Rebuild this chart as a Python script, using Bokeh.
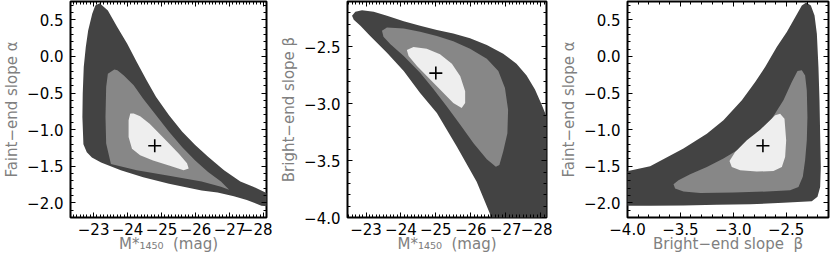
from bokeh.plotting import figure
from bokeh.models import Range1d, SingleIntervalTicker, LinearAxis, CustomJSTickFormatter
from bokeh.layouts import row
from bokeh.embed import file_html
from bokeh.resources import INLINE

# ---------------- data ----------------
# Panel 1: M*_1450 vs faint-end slope alpha
p1_dark_x = [-23.18, -23.42, -23.70, -23.99, -24.27, -24.56, -24.84, -25.22, -25.61, -25.99, -26.37,
             -26.84, -27.32, -27.70, -28.06, -28.25, -28.25, -27.94, -27.51, -27.13, -26.65, -26.18,
             -25.22, -24.46, -23.80, -23.22, -22.95, -22.80, -22.70, -22.67, -22.68, -22.71, -22.77,
             -22.84, -22.96, -23.05]
p1_dark_y = [0.727, 0.627, 0.40, 0.173, -0.077, -0.327, -0.555, -0.805, -1.03, -1.21, -1.37,
             -1.555, -1.71, -1.78, -1.86, -1.88, -2.05, -2.04, -1.96, -1.91, -1.86, -1.83,
             -1.74, -1.65, -1.555, -1.45, -1.38, -1.31, -1.20, -0.827, -0.509, -0.145, 0.127,
             0.355, 0.582, 0.695]
p1_mid_x = [-23.61, -23.70, -23.89, -24.18, -24.46, -24.84, -25.22, -25.61, -25.99, -26.37, -26.75,
            -26.99, -26.75, -26.18, -25.22, -24.27, -23.51, -23.37, -23.35, -23.37, -23.42]
p1_mid_y = [-0.18, -0.19, -0.259, -0.395, -0.577, -0.805, -1.03, -1.24, -1.42, -1.58, -1.71,
            -1.82, -1.78, -1.71, -1.63, -1.555, -1.47, -1.19, -0.827, -0.418, -0.236]
p1_light_x = [-24.08, -24.03, -24.03, -24.13, -24.37, -24.75, -25.22, -25.65, -25.80, -25.75,
              -25.51, -25.22, -24.94, -24.65, -24.37, -24.18]
p1_light_y = [-0.78, -0.873, -1.10, -1.26, -1.35, -1.42, -1.49, -1.555, -1.53, -1.46,
              -1.33, -1.19, -1.055, -0.918, -0.818, -0.78]

# Panel 2: M*_1450 vs bright-end slope beta
p2_dark_x = [-22.60, -22.695, -22.886, -23.22, -23.60, -24.08, -24.55, -25.03, -25.50, -25.98,
             -26.46, -26.93, -27.31, -27.60, -27.84, -28.03, -28.15, -28.40, -28.40, -26.62,
             -26.55, -26.17, -25.60, -25.03, -24.55, -24.08, -23.60, -23.12, -22.84, -22.65]
p2_dark_y = [-2.226, -2.19, -2.176, -2.19, -2.226, -2.273, -2.314, -2.35, -2.382, -2.423,
             -2.482, -2.559, -2.647, -2.75, -2.875, -3.007, -3.096, -3.18, -4.2, -4.2,
             -3.966, -3.686, -3.376, -3.081, -2.904, -2.712, -2.55, -2.403, -2.314, -2.26]
p2_mid_x = [-23.457, -23.60, -24.08, -24.55, -25.03, -25.50, -25.98, -26.46, -26.79, -26.98,
            -27.07, -27.05, -26.93, -26.82, -26.72, -26.46, -26.08, -25.70, -25.31, -24.93,
            -24.55, -24.08, -23.70, -23.50]
p2_mid_y = [-2.358, -2.329, -2.338, -2.367, -2.403, -2.45, -2.515, -2.603, -2.712, -2.86,
            -3.052, -3.258, -3.42, -3.538, -3.553, -3.488, -3.347, -3.184, -3.022, -2.869,
            -2.727, -2.58, -2.476, -2.41]
p2_light_x = [-24.17, -24.36, -24.74, -25.12, -25.46, -25.70, -25.84, -25.84, -25.74, -25.50,
              -25.17, -24.79, -24.46, -24.22]
p2_light_y = [-2.527, -2.50, -2.515, -2.565, -2.647, -2.757, -2.889, -2.993, -3.037, -2.993,
              -2.889, -2.771, -2.668, -2.58]

# Panel 3: bright-end slope beta vs faint-end slope alpha
p3_dark_x = [-4.10, -3.786, -3.471, -3.25, -3.093, -2.919, -2.793, -2.699, -2.589, -2.494,
             -2.415, -2.352, -2.311, -2.267, -2.232, -2.21, -2.195, -2.185, -2.179, -2.173,
             -2.179, -2.204, -2.258, -2.526, -2.84, -3.156, -3.471, -3.786, -4.10]
p3_dark_y = [-1.60, -1.50, -1.259, -1.055, -0.873, -0.60, -0.35, -0.145, 0.127, 0.332,
             0.536, 0.695, 0.736, 0.695, 0.559, 0.309, -0.145, -0.60, -1.055, -1.509,
             -1.782, -1.918, -1.977, -2.0, -2.018, -2.027, -2.036, -2.041, -2.041]
p3_mid_x = [-3.565, -3.518, -3.408, -3.25, -3.093, -2.935, -2.778, -2.636, -2.526, -2.447,
            -2.393, -2.352, -2.321, -2.305, -2.299, -2.305, -2.321, -2.343, -2.384, -2.463,
            -2.683, -2.998, -3.313, -3.471, -3.55]
p3_mid_y = [-1.745, -1.69, -1.609, -1.509, -1.395, -1.259, -1.077, -0.85, -0.60, -0.35,
            -0.20, -0.19, -0.259, -0.464, -0.827, -1.145, -1.418, -1.645, -1.782, -1.827,
            -1.845, -1.859, -1.864, -1.845, -1.805]
p3_light_x = [-2.557, -2.516, -2.50, -2.51, -2.541, -2.62, -2.778, -2.935, -3.014, -3.036,
              -2.982, -2.872, -2.746, -2.652, -2.604]
p3_light_y = [-0.782, -0.85, -1.145, -1.373, -1.509, -1.564, -1.573, -1.555, -1.509, -1.427,
              -1.305, -1.145, -1.0, -0.873, -0.805]

# best-fit points
best1_M, best1_alpha = [-24.80], [-1.22]
best2_M, best2_beta = [-25.00], [-2.73]
best3_beta, best3_alpha = [-2.72], [-1.22]

# axis ranges
M1_range = (-22.32, -28.09)
M2_range = (-22.47, -28.17)
alpha_range = (-2.2, 0.75)
beta_range = (-4.0, -2.1)

# axis titles
M_title = "M*\u2081\u2084\u2085\u2080\u00a0\u00a0(mag)"
alpha_title = "Faint\u2212end slope \u03b1"
beta_title = "Bright\u2212end slope \u03b2"
beta_title_x = "Bright\u2212end slope \u00a0\u03b2"

# ---------------- style ----------------
DARK = "#434343"
MID = "#878787"
LIGHT = "#eeeeee"
FONT = "DejaVu Sans"
TITLE_COLOR = "#808080"
HEIGHT = 263


def fmt(d):
    return CustomJSTickFormatter(code=(
        "const v = Math.abs(tick) < 1e-9 ? 0 : tick;"
        "return (v < 0 ? '\u2212' : '') + Math.abs(v).toFixed(%d);" % d))


def style_axis(ax, labels, standoff=5):
    ax.axis_line_color = None
    ax.major_tick_in = 5
    ax.major_tick_out = 0
    ax.minor_tick_in = 3
    ax.minor_tick_out = 0
    ax.major_tick_line_color = "black"
    ax.minor_tick_line_color = "black"
    if labels:
        ax.major_label_text_font = FONT
        ax.major_label_text_font_size = "15px"
        ax.major_label_text_color = "black"
        ax.major_label_standoff = standoff
    else:
        ax.formatter = CustomJSTickFormatter(code="return ''")
        ax.major_label_text_font_size = "0px"
        ax.major_label_standoff = 0


def title_style(ax, text, standoff):
    ax.axis_label = text
    ax.axis_label_text_font = FONT
    ax.axis_label_text_font_size = "15px"
    ax.axis_label_text_color = TITLE_COLOR
    ax.axis_label_text_font_style = "normal"
    ax.axis_label_standoff = standoff


def make_fig(width, left, right, xr, yr, xint, xminor, xdec, yint, yminor, ydec, ylabel, xlabel):
    p = figure(width=width, height=HEIGHT, x_range=Range1d(*xr), y_range=Range1d(*yr),
               output_backend="svg", toolbar_location=None,
               min_border_left=left, min_border_right=right,
               min_border_top=1, min_border_bottom=46)
    p.grid.visible = False
    p.outline_line_color = "black"
    p.outline_line_width = 2
    p.background_fill_color = "white"
    p.border_fill_color = "white"

    xt = SingleIntervalTicker(interval=xint, num_minor_ticks=xminor)
    yt = SingleIntervalTicker(interval=yint, num_minor_ticks=yminor)

    xa = p.xaxis[0]
    xa.ticker = xt
    xa.formatter = fmt(xdec)
    style_axis(xa, True, 5)
    title_style(xa, xlabel, -3)
    ya = p.yaxis[0]
    ya.ticker = yt
    ya.formatter = fmt(ydec)
    style_axis(ya, True, 7)
    title_style(ya, ylabel, 3)

    top = LinearAxis(ticker=xt)
    style_axis(top, False)
    p.add_layout(top, "above")
    rgt = LinearAxis(ticker=yt)
    style_axis(rgt, False)
    p.add_layout(rgt, "right")
    return p


def add_regions(p, dx, dy, mx, my, lx, ly, bx, by):
    p.patch(dx, dy, fill_color=DARK, line_color=None)
    p.patch(mx, my, fill_color=MID, line_color=None)
    p.patch(lx, ly, fill_color=LIGHT, line_color=None)
    p.scatter(bx, by, marker="cross", size=13, line_color="black", line_width=1.6)


p1 = make_fig(272, 65, 6, M1_range, alpha_range, 1, 10, 0, 0.5, 5, 1, alpha_title, M_title)
add_regions(p1, p1_dark_x, p1_dark_y, p1_mid_x, p1_mid_y, p1_light_x, p1_light_y, best1_M, best1_alpha)

p2 = make_fig(280, 75, 6, M2_range, beta_range, 1, 10, 0, 0.5, 5, 1, beta_title, M_title)
add_regions(p2, p2_dark_x, p2_dark_y, p2_mid_x, p2_mid_y, p2_light_x, p2_light_y, best2_M, best2_beta)

p3 = make_fig(278, 75, 2, beta_range, alpha_range, 0.5, 5, 1, 0.5, 5, 1, alpha_title, beta_title_x)
add_regions(p3, p3_dark_x, p3_dark_y, p3_mid_x, p3_mid_y, p3_light_x, p3_light_y, best3_beta, best3_alpha)

layout = row(p1, p2, p3, spacing=0)

open("out.html", "w").write(file_html(layout, INLINE))
